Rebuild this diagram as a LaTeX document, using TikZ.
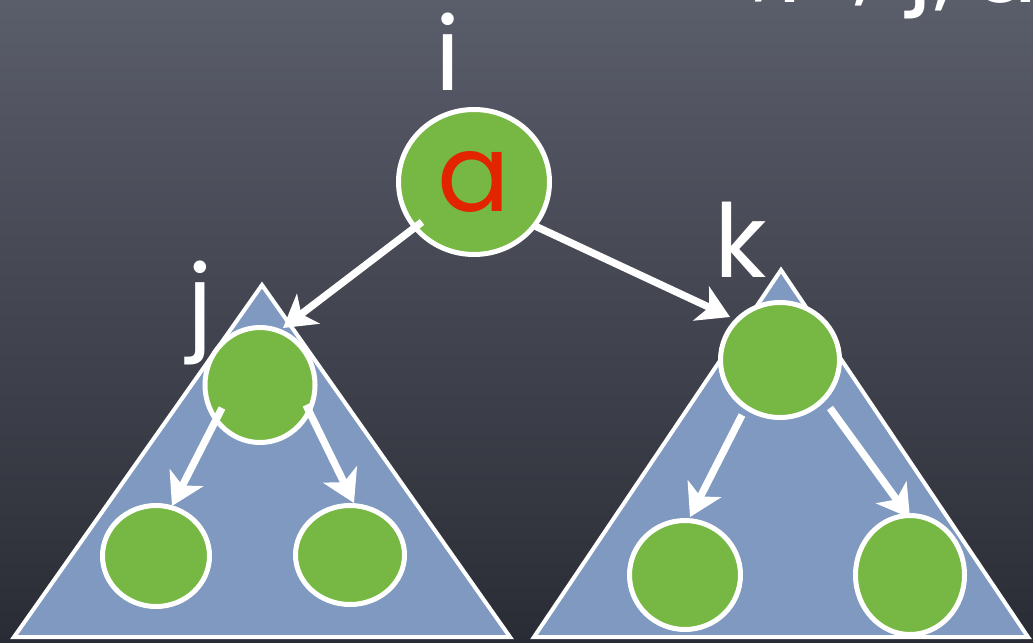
\documentclass[tikz,border=0pt]{standalone}
\usepackage{fontspec}
\setmainfont{Poppins}
\usetikzlibrary{arrows.meta,shapes.geometric}
\definecolor{nodegreen}{RGB}{118,184,67}
\definecolor{treeblue}{RGB}{127,153,192}
\definecolor{letterred}{RGB}{226,36,0}
\definecolor{boardtop}{RGB}{90,93,106}
\definecolor{boardbot}{RGB}{42,44,53}
\begin{document}
\begin{tikzpicture}[x=0.03cm,y=-0.03cm,
  treenode/.style 2 args={ellipse, draw=white, line width=0.15cm, fill=nodegreen,
    inner sep=0pt, minimum width=#1, minimum height=#2},
  subtree/.style={draw=white, line width=0.12cm, fill=treeblue, line join=miter},
  edge/.style={draw=white, line width=0.22cm,
    -{Stealth[length=0.95cm, width=1.12cm, inset=0.26cm]}},
  lbl/.style={text=white, font=\fontsize{87}{90}\selectfont, inner sep=0pt, anchor=base}]
\useasboundingbox (0,0) rectangle (1033,642);
\clip (0,0) rectangle (1033,642);
\shade[top color=boardtop, bottom color=boardbot] (0,0) rectangle (1033,642);

% partly visible heading (cut off by the top edge)
\node[lbl, anchor=base west] (head) at (755,2)
  {\raisebox{12pt}{,}\kern 0.02em i\kern 0.52em\raisebox{9pt}{,}\kern 0.31em\raisebox{8pt}{j}\kern 0.03em\raisebox{5pt}{,}\kern 0.13em a};

% subtrees
\draw[subtree] (262,285) -- (510,637) -- (14,637) -- cycle;
\draw[subtree] (781,270) -- (1028,637) -- (534,637) -- cycle;

% nodes
\node[treenode={4.53cm}{4.35cm}, text=letterred, font=\fontsize{92}{95}\selectfont] (root) at (474,182) {a};
\node[treenode={3.30cm}{3.45cm}] (j) at (260,385) {};
\node[treenode={3.21cm}{3.03cm}] (jl) at (156,556) {};
\node[treenode={3.27cm}{2.97cm}] (jr) at (350,555) {};
\node[treenode={3.57cm}{3.45cm}] (k) at (780,360) {};
\node[treenode={3.33cm}{3.27cm}] (kl) at (685,575) {};
\node[treenode={3.27cm}{3.57cm}] (kr) at (910,575) {};

% labels
\node[lbl] (li) at (448,90) {i};
\node[lbl] (lj) at (200,338) {j};
\node[lbl] (lk) at (741,277) {k};

% connectors
\draw[edge] ([shift={(-52,40)}]root.center) -- ([shift={(23,-57)}]j.center);
\draw[edge] ([shift={(61,44)}]root.center) -- ([shift={(-50,-43)}]k.center);
\draw[edge] ([shift={(-38,23)}]j.center) -- ([shift={(16,-50)}]jl.center);
\draw[edge] ([shift={(46,20)}]j.center) -- ([shift={(4,-52)}]jr.center);
\draw[edge] ([shift={(-38,55)}]k.center) -- ([shift={(5,-58)}]kl.center);
\draw[edge] ([shift={(50,48)}]k.center) -- ([shift={(0,-57)}]kr.center);
\end{tikzpicture}
\end{document}
